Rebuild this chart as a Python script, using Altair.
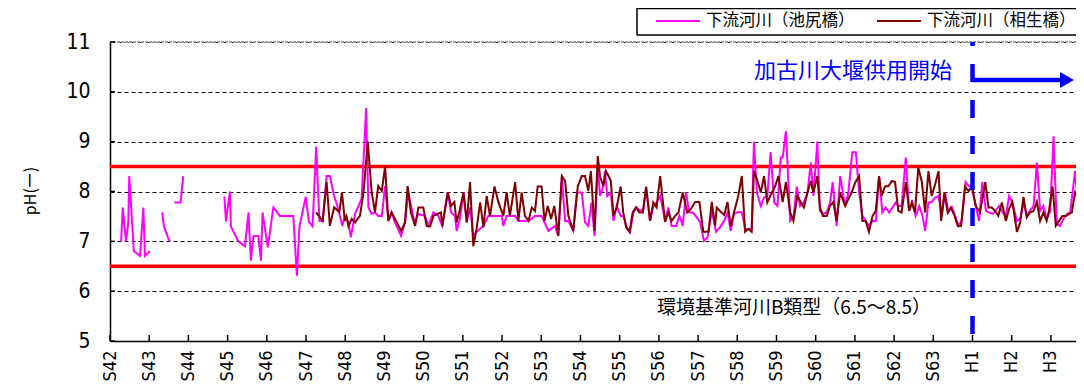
import altair as alt
import pandas as pd

# ---------------- data ----------------
year_labels = ["S42", "S43", "S44", "S45", "S46", "S47", "S48", "S49", "S50", "S51",
               "S52", "S53", "S54", "S55", "S56", "S57", "S58", "S59", "S60", "S61",
               "S62", "S63", "H1", "H2", "H3"]

# months counted from the S42 tick; None marks a break in the record
ikejiri_month = [
    3.4, 3.9, 4.9, 5.6, 5.9, 7.3, 9.2, 10.2, 10.7, 12.2, None,
    16.0, 16.5, 18.2, None,
    19.7, 21.6, 22.4, None,
    35.0, 35.5, 36.7, 37.0, 39.3, 41.3, 42.4, 43.1, 43.9, 45.4,
    46.2, 46.7, 48.3, 50.0, 52.0, 56.1, 57.2, 58.0, 59.9, 60.9,
    62.0, 63.1, 64.1, 65.1, 66.3, 67.3, 68.6, 69.6, 71.1, 71.9,
    73.0, 73.7,
    75.0, 77.0, 78.4, 79.1, 80.1, 81.1, 82.1, 83.2, 84.2, 85.2,
    86.2, 87.2, 89.1, 90.3, 91.3, 93.2, 94.4, 96.4, 97.4, 99.0,
    100.5, 101.7, 103.4, 104.4, 105.6, 106.1, 107.1, 108.2, 109.2, 110.2,
    111.2, 112.2, 114.3, 115.8, 117.9, 119.9, 120.4, 121.4, 124.0, 125.0,
    128.1, 130.1, 132.1, 134.2, 136.2, 137.2, 138.3, 139.3, 140.3, 141.8,
    142.9, 144.4, 145.4, 146.4, 147.4, 148.3, 149.3, 150.0,
    151.0, 151.5, 152.2, 153.3, 154.1, 155.1, 156.3, 157.1, 158.2, 159.2,
    160.2, 161.2, 162.2, 163.3, 164.1, 165.3, 166.3, 167.3, 168.4, 169.9,
    170.9, 171.9, 173.3, 174.3, 175.3, 176.3, 177.3, 178.4, 179.6, 180.6,
    181.8, 182.9, 184.2, 185.5, 186.7, 188.0, 189.0, 190.0, 191.0, 192.3,
    193.4, 194.4, 196.4, 197.1, 198.0, 199.2, 200.2, 201.2, 202.2, 203.3,
    204.3, 205.3, 205.9, 206.9, 208.2, 209.2, 210.2, 211.2, 212.4, 213.5,
    214.5, 215.3, 216.5, 217.3, 218.4, 219.4, 220.4, 221.2, 222.4, 223.5,
    225.0,
    226.0, 227.2, 228.3, 229.3, 230.3, 231.3, 232.3, 233.4, 234.4, 235.4,
    236.4, 237.4, 238.5, 239.5, 240.5, 241.3, 242.3, 243.6, 244.6, 245.6,
    246.6, 247.7, 248.7, 249.5, 250.5, 251.5, 252.6, 253.6, 254.6, 255.6,
    256.6, 257.7, 258.7, 259.7, 260.7, 261.9, 262.8, 263.8, 265.0, 266.0,
    267.0, 268.1, 269.1, 270.1, 271.1, 272.1, 273.2, 274.2, 275.2, 276.2,
    277.6, 278.6, 279.6, 280.6, 281.6, 282.7, 283.7, 284.7, 285.7, 286.7,
    287.8, 288.8, 289.8, 290.8, 291.8, 292.9, 293.9, 295.4, 296.4, 297.4,
    298.3,
]
ikejiri_ph = [
    7.0, 7.68, 7.0, 7.38, 8.31, 6.8, 6.71, 7.68, 6.71, 6.8, None,
    7.58, 7.3, 7.0, None,
    7.78, 7.78, 8.31, None,
    7.9, 7.4, 8.0, 7.3, 7.0, 6.9, 7.58, 6.61, 7.1, 7.11,
    6.61, 7.58, 6.88, 7.68, 7.51, 7.51, 6.31, 7.3, 7.89, 7.39,
    7.3, 8.9, 7.41, 7.41, 8.31, 8.31, 7.91, 7.71, 7.31, 7.51,
    7.38, 7.08,
    7.55, 7.85, 9.68, 7.68, 7.55, 7.58, 7.51, 7.51, 8.11, 7.41,
    7.58, 7.38, 7.11, 7.38, 7.98, 7.38, 7.55, 7.51, 7.31, 7.58,
    7.51, 7.31, 7.98, 7.58, 7.51, 7.21, 7.45, 7.98, 7.38, 7.68,
    7.11, 7.19, 7.31, 7.51, 7.51, 7.51, 7.31, 7.51, 7.51, 7.41,
    7.41, 7.51, 7.51, 7.21, 7.31, 7.11, 8.28, 7.41, 7.41, 7.21,
    7.98, 7.98, 7.38, 7.31, 7.78, 7.11, 8.51, 7.91,
    8.11, 8.41, 7.91, 7.98, 7.41, 7.71, 7.51, 7.51, 7.28, 7.19,
    7.58, 7.68, 7.61, 7.65, 8.08, 7.41, 7.71, 7.78, 7.91, 7.41,
    7.68, 7.31, 7.31, 7.51, 7.31, 7.98, 7.58, 7.58, 7.48, 7.39,
    7.01, 7.08, 7.61, 7.19, 7.28, 7.41, 7.58, 7.21, 7.55, 7.59,
    7.58, 7.25, 7.25, 9.0, 7.98, 7.71, 7.88, 7.91, 8.79, 7.78,
    7.71, 8.68, 8.68, 9.21, 7.41, 7.48, 8.1, 7.71, 7.78, 7.98,
    8.58, 7.91, 9.0, 7.61, 7.55, 7.58, 7.78, 8.19, 7.31, 8.31,
    7.71,
    7.98, 8.79, 8.79, 7.98, 7.51, 7.41, 7.31, 7.41, 7.41, 8.31,
    7.58, 7.68, 7.58, 7.68, 7.78, 7.71, 7.71, 8.68, 7.61, 7.78,
    7.51, 7.71, 7.51, 7.21, 7.78, 7.79, 7.88, 7.91, 7.51, 7.98,
    7.58, 7.68, 7.51, 7.31, 7.41, 8.19, 8.11, 8.1, 7.71, 7.41,
    8.19, 7.61, 7.58, 7.55, 7.61, 7.71, 7.58, 7.51, 7.91, 7.78,
    7.41, 7.45, 7.78, 7.51, 7.61, 7.71, 8.58, 7.61, 7.71, 7.45,
    7.61, 9.11, 7.35, 7.31, 7.45, 7.55, 7.58, 8.41, 7.58, 7.58,
    7.78,
]

aioi_month = [
    63.1, 65.1, 66.3, 67.3, 68.6, 70.2, 71.0, 71.9, 72.4, 73.0, 74.0,
    75.0, 76.5, 77.6, 78.9, 80.1, 81.1, 82.1, 83.2, 84.2, 85.2,
    86.2, 87.8, 89.1, 90.3, 91.1, 92.1, 93.4, 94.4, 95.9, 96.9,
    98.0, 99.0, 100.3, 101.3, 101.7, 103.4, 104.4, 105.4, 106.1, 106.9,
    108.2, 109.2, 110.2, 111.2, 112.2, 113.3, 114.3, 115.3, 116.3, 117.7,
    118.9, 120.4, 121.4, 122.4, 124.0, 125.0, 126.0, 127.0, 128.1, 129.1,
    130.1, 130.9, 132.1, 133.0, 134.0, 135.0, 136.0, 137.2, 138.3, 139.3,
    140.3, 141.8, 143.2, 144.4, 145.4, 146.4, 147.2, 148.3, 149.3, 150.0,
    151.0, 151.8, 152.6, 153.3, 154.1, 155.1, 156.3, 157.1, 158.0, 159.0,
    160.0, 161.0, 162.0, 163.1, 164.1, 165.3, 166.3, 167.3, 168.4, 169.9,
    170.9, 171.9, 173.0, 174.0, 175.3, 176.7, 177.8, 179.1, 180.4, 181.6,
    183.2, 184.2, 185.2, 185.7, 186.7, 188.0, 189.0, 190.0, 191.0, 192.3,
    193.4, 194.4, 195.4, 196.4, 197.1, 198.2, 199.2, 200.2, 201.2, 202.6,
    203.6, 204.6, 205.9, 206.9, 208.2, 209.2, 210.4, 211.4, 212.4, 213.5,
    214.5, 215.3, 216.5, 217.3, 218.2, 219.4, 220.4, 221.4, 222.4, 223.5,
    225.0,
    226.0, 227.0, 228.1, 229.3, 230.3, 231.3, 232.3, 233.4, 234.4, 235.4,
    236.2, 237.2, 238.3, 239.3, 240.3, 241.3, 242.3, 243.6, 244.6, 245.4,
    246.4, 247.4, 248.5, 249.5, 250.5, 251.5, 252.6, 253.6, 254.4, 255.4,
    256.4, 257.4, 258.5, 259.5, 260.5, 261.7, 262.8, 263.8, 265.0, 266.3,
    267.9, 268.9, 269.9, 270.9, 271.9, 273.0, 274.2, 275.2, 276.2, 277.6,
    278.6, 279.6, 280.6, 281.6, 282.7, 283.7, 284.7, 285.7, 286.7, 287.4,
    288.5, 289.5, 290.5, 291.5, 292.6, 294.4, 295.4, 296.4, 297.4, 298.3,
]
aioi_ph = [
    7.58, 7.41, 8.19, 7.31, 7.68, 7.59, 7.98, 7.41, 7.5, 7.3, 7.45,
    7.38, 7.51, 7.98, 9.0, 7.98, 7.58, 8.11, 8.01, 8.5, 7.41,
    7.58, 7.38, 7.21, 7.38, 8.11, 7.58, 7.31, 7.68, 7.68, 7.31,
    7.3, 7.51, 7.55, 7.58, 7.3, 7.98, 7.71, 7.79, 7.38, 7.58,
    7.98, 7.38, 8.19, 6.9, 7.25, 7.78, 7.28, 7.91, 7.51, 8.1,
    7.78, 7.51, 7.98, 7.51, 8.19, 7.41, 7.98, 7.51, 7.41, 7.68,
    7.61, 8.1, 8.1, 7.41, 7.71, 7.45, 7.71, 7.11, 8.31, 8.21,
    7.51, 7.21, 8.11, 8.31, 8.31, 8.01, 8.41, 7.21, 8.71, 8.3,
    8.11, 8.41, 8.31, 8.21, 7.51, 7.68, 8.1, 7.58, 7.28, 7.19,
    7.58, 7.68, 7.58, 7.58, 8.1, 7.41, 7.78, 7.68, 8.31, 7.39,
    7.58, 7.41, 7.51, 7.58, 7.98, 7.58, 7.65, 7.79, 7.79, 7.19,
    7.19, 7.79, 7.31, 7.68, 7.61, 7.53, 7.79, 7.31, 7.58, 7.91,
    8.31, 7.19, 7.25, 7.19, 8.41, 8.21, 7.98, 8.31, 7.78, 7.98,
    8.11, 8.31, 7.79, 8.19, 7.58, 7.41, 7.91, 7.79, 7.68, 7.98,
    8.21, 7.98, 8.31, 7.68, 7.51, 7.51, 7.71, 7.79, 7.41, 7.98,
    7.71,
    7.85, 7.98, 8.18, 8.31, 7.41, 7.41, 7.19, 7.51, 7.61, 8.31,
    7.91, 8.1, 8.11, 8.21, 8.19, 7.61, 7.58, 8.19, 7.61, 7.78,
    7.58, 8.48, 8.19, 7.58, 8.41, 7.91, 8.15, 8.41, 7.41, 7.98,
    7.58, 7.68, 7.51, 7.31, 7.31, 8.1, 8.01, 8.1, 7.71, 7.58,
    8.19, 7.68, 7.68, 7.61, 7.51, 7.78, 7.41, 7.65, 7.79, 7.19,
    7.38, 7.89, 7.48, 7.58, 7.61, 7.79, 7.41, 7.58, 7.41, 7.61,
    8.1, 7.31, 7.41, 7.51, 7.51, 7.58, 7.98, 7.85, 7.71, 7.85,
]

standard_bounds = [6.5, 8.5]       # 環境基準河川B類型
weir_start = [22]                  # H1 (加古川大堰供用開始)
y_ticks = [5, 6, 7, 8, 9, 10, 11]

series_names = ["下流河川（池尻橋）", "下流河川（相生橋）"]
series_colors = ["#ff00ff", "#800000"]
weir_text = "加古川大堰供用開始"
standard_text = "環境基準河川B類型（6.5〜8.5）"
y_title = "pH(ー)"


def to_frame(months, values, name):
    rows, seg = [], 0
    for m, v in zip(months, values):
        if m is None or v is None:
            seg += 1
            continue
        rows.append({"yr": m / 12.0, "ph": v, "seg": seg, "series": name})
    return pd.DataFrame(rows)


df_ike = to_frame(ikejiri_month, ikejiri_ph, series_names[0])
df_aio = to_frame(aioi_month, aioi_ph, series_names[1])

# ---------------- layout ----------------
W, H = 966, 299
X_MAX = 24.64
NUM_FONT = "Liberation Sans Narrow, DejaVu Sans Condensed, Liberation Sans, sans-serif"
JP_FONT = "Noto Sans CJK JP"

label_expr = "[" + ",".join("'%s'" % s for s in year_labels) + "][datum.value]"

x_axis = alt.Axis(
    values=list(range(len(year_labels))), labelExpr=label_expr,
    labelAngle=-90, labelFont=NUM_FONT, labelFontSize=18, labelColor="black",
    labelPadding=9, labelOverlap=False, labelBound=False, labelFlush=False,
    tickSize=0, domainColor="black", domainWidth=1.5, grid=False, title=None,
)
y_axis = alt.Axis(
    values=y_ticks, labelFont=NUM_FONT, labelFontSize=21, labelColor="black",
    labelPadding=20, tickSize=0, labelOverlap=False,
    domainColor="black", domainWidth=1.5,
    grid=True, gridColor="black", gridDash=[4, 3], gridWidth=1.2, title=None,
)
x_scale = alt.Scale(domain=[0, X_MAX], nice=False, zero=False)
y_scale = alt.Scale(domain=[5, 11], nice=False, zero=False)


def xe():
    return alt.X("yr:Q", scale=x_scale, axis=x_axis)


def ye():
    return alt.Y("ph:Q", scale=y_scale, axis=y_axis)


one = pd.DataFrame({"a": [0]})

# inward tick marks
x_ticks = alt.Chart(pd.DataFrame({"yr": list(range(len(year_labels)))})).mark_rule(
    color="black", strokeWidth=1.5).encode(x=xe(), y=alt.value(H - 6), y2=alt.value(H))
y_tick_marks = alt.Chart(pd.DataFrame({"ph": y_ticks})).mark_rule(
    color="black", strokeWidth=1.5).encode(y=ye(), x=alt.value(0), x2=alt.value(5))

red_rules = alt.Chart(pd.DataFrame({"ph": standard_bounds})).mark_rule(
    color="#ff0000", strokeWidth=3.5).encode(y=ye())

top_rule = alt.Chart(pd.DataFrame({"ph": [11]})).mark_rule(
    color="#9a9a9a", strokeWidth=2, strokeDash=[3, 1]).encode(y=ye())

ike_line = alt.Chart(df_ike).mark_line(
    color=series_colors[0], strokeWidth=2, clip=True).encode(
    x=xe(), y=ye(), detail="seg:N")

aio_line = alt.Chart(df_aio).mark_line(
    color=series_colors[1], strokeWidth=2, clip=True).encode(
    x=xe(), y=ye(), detail="seg:N")

weir_rule = alt.Chart(pd.DataFrame({"yr": weir_start})).mark_rule(
    color="#0000ff", strokeWidth=4.5, strokeDash=[18, 18], strokeDashOffset=14).encode(
    x=xe(), y=alt.value(0), y2=alt.value(H))

arrow_line = alt.Chart(one).mark_rule(color="#0000ff", strokeWidth=4.5).encode(
    x=alt.value(862), x2=alt.value(955), y=alt.value(38))
arrow_head = alt.Chart(one).mark_point(
    shape="triangle-right", filled=True, color="#0000ff", size=260, opacity=1).encode(
    x=alt.value(957), y=alt.value(38))

weir_label = alt.Chart(one).mark_text(
    text=weir_text, font=JP_FONT, fontSize=22, color="#0000ff",
    align="center", baseline="middle").encode(x=alt.value(743), y=alt.value(29))

std_label = alt.Chart(one).mark_text(
    text=standard_text, font=JP_FONT, fontSize=19, color="black",
    align="center", baseline="middle").encode(x=alt.value(684), y=alt.value(266))

ytitle = alt.Chart(one).mark_text(
    text=y_title, font=JP_FONT, fontSize=16, color="black", angle=270,
    align="center", baseline="middle").encode(x=alt.value(-79), y=alt.value(149))

legend_box = alt.Chart(one).mark_rect(
    fill="white", stroke="black", strokeWidth=1.5).encode(
    x=alt.value(527), x2=alt.value(980), y=alt.value(-33.5), y2=alt.value(-7))

leg_line1 = alt.Chart(one).mark_rule(color=series_colors[0], strokeWidth=2).encode(
    x=alt.value(546), x2=alt.value(590), y=alt.value(-21))
leg_line2 = alt.Chart(one).mark_rule(color=series_colors[1], strokeWidth=2).encode(
    x=alt.value(767), x2=alt.value(811), y=alt.value(-21))
leg_text1 = alt.Chart(one).mark_text(
    text=series_names[0], font=JP_FONT, fontSize=16.5, color="black",
    align="left", baseline="middle").encode(x=alt.value(596), y=alt.value(-21))
leg_text2 = alt.Chart(one).mark_text(
    text=series_names[1], font=JP_FONT, fontSize=16.5, color="black",
    align="left", baseline="middle").encode(x=alt.value(817), y=alt.value(-21))

chart = alt.layer(
    red_rules, top_rule, x_ticks, y_tick_marks, ike_line, aio_line, weir_rule,
    arrow_line, arrow_head, weir_label, std_label, ytitle,
    legend_box, leg_line1, leg_line2, leg_text1, leg_text2,
).properties(
    width=W, height=H,
    autosize=alt.AutoSizeParams(type="none"),
    padding={"left": 102, "top": 34, "right": 0, "bottom": 43},
    background="white",
).configure_view(stroke=None)

chart.save("out.html", embed_options={"renderer": "svg", "actions": False})
